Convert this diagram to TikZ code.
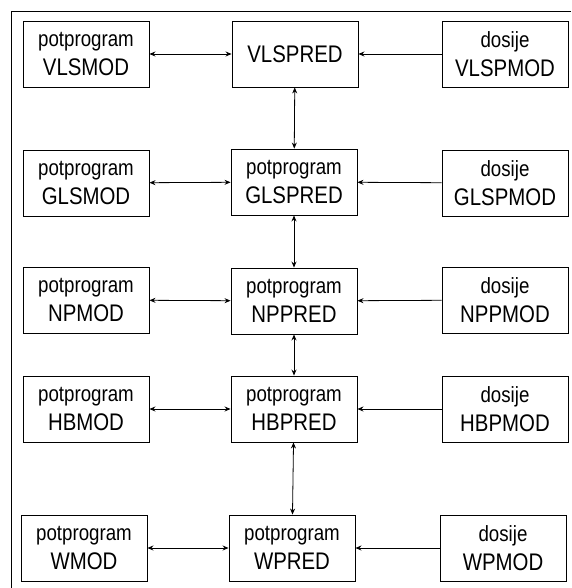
\documentclass[tikz,border=0pt]{standalone}
\usepackage{fontspec}
\setmainfont{Liberation Sans}[FakeStretch=0.85]
\usetikzlibrary{arrows.meta}
\newcommand{\kind}[1]{{\fontsize{22}{29}\selectfont #1}}
\begin{document}
\begin{tikzpicture}[x=1pt,y=-1pt]
	\tikzstyle{prog_box} = [rectangle, draw, line width=0.9pt, minimum width=126pt, minimum height=66pt, align=center, inner sep=0pt, font=\fontsize{24}{29}\selectfont]
	\tikzstyle{link} = [line width=0.8pt, {Stealth[length=6pt,width=5pt]}-{Stealth[length=6pt,width=5pt]}]
	\tikzstyle{feed} = [line width=0.8pt, -{Stealth[length=6pt,width=5pt]}]

	\useasboundingbox (0,0) rectangle (571,588);
	% Outer frame
	\draw[line width=1pt] (571,12) -- (11,12) -- (11,588);

	% Row VLS
	\node (VLSMOD) [prog_box] at (86,54) {\kind{potprogram}\\VLSMOD};
	\node (VLSPRED) [prog_box] at (295,54) {VLSPRED};
	\node (VLSPMOD) [prog_box] at (505,54) {\kind{dosije}\\VLSPMOD};
	% Row GLS
	\node (GLSMOD) [prog_box] at (86,183) {\kind{potprogram}\\GLSMOD};
	\node (GLSPRED) [prog_box] at (294,182) {\kind{potprogram}\\GLSPRED};
	\node (GLSPMOD) [prog_box] at (505,183) {\kind{dosije}\\GLSPMOD};
	% Row NP
	\node (NPMOD) [prog_box] at (86,300) {\kind{potprogram}\\NPMOD};
	\node (NPPRED) [prog_box] at (294,301) {\kind{potprogram}\\NPPRED};
	\node (NPPMOD) [prog_box] at (505,300) {\kind{dosije}\\NPPMOD};
	% Row HB
	\node (HBMOD) [prog_box] at (86,409) {\kind{potprogram}\\HBMOD};
	\node (HBPRED) [prog_box] at (294,409) {\kind{potprogram}\\HBPRED};
	\node (HBPMOD) [prog_box] at (505,409) {\kind{dosije}\\HBPMOD};
	% Row W
	\node (WMOD) [prog_box] at (84,548) {\kind{potprogram}\\WMOD};
	\node (WPRED) [prog_box] at (292,548) {\kind{potprogram}\\WPRED};
	\node (WPMOD) [prog_box] at (503,548) {\kind{dosije}\\WPMOD};

	% Links within each row
	\foreach \m/\p/\f in {VLSMOD/VLSPRED/VLSPMOD, GLSMOD/GLSPRED/GLSPMOD, NPMOD/NPPRED/NPPMOD, HBMOD/HBPRED/HBPMOD, WMOD/WPRED/WPMOD}
	{
	\draw[link] (\m) -- (\p);
	\draw[feed] (\f) -- (\p);
	}
	% Links between the rows
	\foreach \a/\b in {VLSPRED/GLSPRED, GLSPRED/NPPRED, NPPRED/HBPRED, HBPRED/WPRED}
	\draw[link] (\a) -- (\b);
\end{tikzpicture}
\end{document}
